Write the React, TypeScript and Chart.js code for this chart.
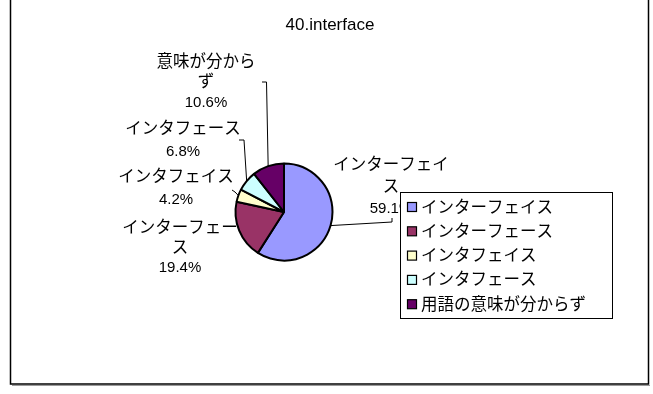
import React, { useEffect, useRef } from "react";
import { Chart, registerables } from "chart.js";

Chart.register(...registerables);

const TITLE = "40.interface";
const categories = ["インターフェイス", "インターフェース", "インタフェイス", "インタフェース", "用語の意味が分からず"];
const labelNames = ["インターフェイ\nス", "インターフェー\nス", "インタフェイス", "インタフェース", "意味が分から\nず"];
const values = [59.1, 19.4, 4.2, 6.8, 10.6];
const colors = ["#9999FF", "#993366", "#FFFFCC", "#CCFFFF", "#660066"];

// label placement relative to pie centre (layout only)
const LABEL_LAYOUT = [
  { dx: 107, dy: -47, gap: 22, leader: [[108, 6], [108, 10]] },
  { dx: -104, dy: 16, gap: 20, leader: [] },
  { dx: -108, dy: -35, gap: 23, leader: [[-52, -22], [-49, -20]] },
  { dx: -101, dy: -83, gap: 23, leader: [[-45, -72], [-40, -72]] },
  { dx: -78, dy: -150, gap: 20.5, leader: [[-22, -130], [-17.5, -130]] },
];

const JP_FONT = "16.5px 'Liberation Sans', Arial, 'Noto Sans CJK JP', sans-serif";
const NUM_FONT = "15px 'Liberation Sans', Arial, sans-serif";
const TITLE_FONT = "17px 'Liberation Sans', Arial, sans-serif";

const annotPlugin = {
  id: "annot",
  beforeDraw(chart: any) {
    const ctx = chart.ctx;
    ctx.save();
    ctx.fillStyle = "#ffffff";
    ctx.fillRect(0, 0, chart.width, chart.height);
    ctx.strokeStyle = "#000";
    ctx.lineWidth = 1.5;
    ctx.strokeRect(10.5, -5, 638, 389);
    ctx.strokeStyle = "#9a9a9a";
    ctx.lineWidth = 1;
    ctx.beginPath();
    ctx.moveTo(12, 385.5);
    ctx.lineTo(650, 385.5);
    ctx.stroke();
    ctx.fillStyle = "#000";
    ctx.font = TITLE_FONT;
    ctx.textAlign = "center";
    ctx.textBaseline = "middle";
    ctx.fillText(TITLE, 330, 25);
    ctx.restore();
  },
  afterDatasetsDraw(chart: any) {
    const ctx = chart.ctx;
    const meta = chart.getDatasetMeta(0);
    ctx.save();
    ctx.textAlign = "center";
    ctx.textBaseline = "middle";
    meta.data.forEach((arc: any, i: number) => {
      const p = arc.getProps(["x", "y", "startAngle", "endAngle", "outerRadius"], true);
      const mid = (p.startAngle + p.endAngle) / 2;
      const ex = p.x + Math.cos(mid) * p.outerRadius;
      const ey = p.y + Math.sin(mid) * p.outerRadius;
      const L = LABEL_LAYOUT[i];
      if (L.leader.length) {
        ctx.strokeStyle = "#000";
        ctx.lineWidth = 1;
        ctx.beginPath();
        ctx.moveTo(p.x + L.leader[0][0], p.y + L.leader[0][1]);
        for (let k = 1; k < L.leader.length; k++) ctx.lineTo(p.x + L.leader[k][0], p.y + L.leader[k][1]);
        ctx.lineTo(ex, ey);
        ctx.stroke();
      }
      const lines = labelNames[i].split("\n");
      ctx.fillStyle = "#000";
      lines.forEach((t, k) => {
        ctx.font = JP_FONT;
        ctx.fillText(t, p.x + L.dx, p.y + L.dy + k * L.gap);
      });
      ctx.font = NUM_FONT;
      ctx.fillText(values[i].toFixed(1) + "%", p.x + L.dx, p.y + L.dy + lines.length * L.gap);
    });

    // legend
    const bx = 400.5, by = 192.5, bw = 212, bh = 126;
    ctx.fillStyle = "#fff";
    ctx.fillRect(bx, by, bw, bh);
    ctx.strokeStyle = "#000";
    ctx.lineWidth = 1;
    ctx.strokeRect(bx, by, bw, bh);
    ctx.textAlign = "left";
    ctx.font = JP_FONT;
    categories.forEach((c, i) => {
      const cy = 207 + i * 24.3;
      ctx.fillStyle = colors[i];
      ctx.fillRect(407.5, cy - 4.5, 9, 9);
      ctx.strokeStyle = "#000";
      ctx.lineWidth = 1.2;
      ctx.strokeRect(407.5, cy - 4.5, 9, 9);
      ctx.fillStyle = "#000";
      ctx.fillText(c, 421, cy + 1);
    });
    ctx.restore();
  },
};

export default function App() {
  const ref = useRef<HTMLCanvasElement>(null);
  useEffect(() => {
    if (!ref.current) return;
    const chart = new Chart(ref.current, {
      type: "pie",
      data: {
        labels: categories,
        datasets: [
          {
            data: values,
            backgroundColor: colors,
            borderColor: "#000",
            borderWidth: 2,
          },
        ],
      },
      options: {
        responsive: false,
        animation: false,
        radius: 48.5,
        layout: { padding: { left: 100, right: 185, top: 100, bottom: 70 } },
        plugins: {
          legend: { display: false },
          tooltip: { enabled: false },
          title: { display: false },
        },
      } as any,
      plugins: [annotPlugin],
    });
    return () => chart.destroy();
  }, []);
  return (
    <div style={{ position: "fixed", left: 0, top: 0, width: 653, height: 394 }}>
      <canvas ref={ref} width={653} height={394} style={{ display: "block" }} />
    </div>
  );
}
